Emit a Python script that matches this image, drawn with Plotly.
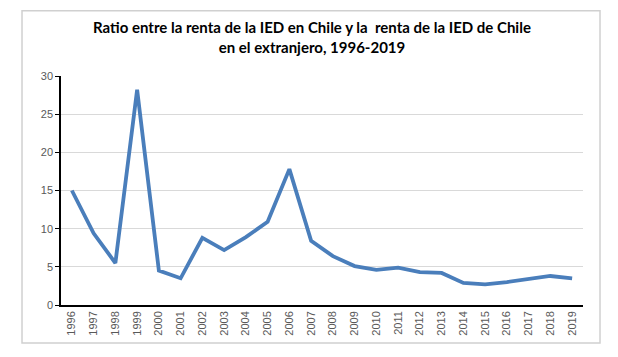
import plotly.graph_objects as go

years = [str(y) for y in range(1996, 2020)]
ratio = [15.0, 9.4, 5.5, 28.2, 4.5, 3.5, 8.8, 7.2, 8.9, 10.9, 17.8, 8.4,
         6.4, 5.1, 4.6, 4.9, 4.3, 4.2, 2.9, 2.7, 3.0, 3.4, 3.8, 3.5]
y_ticks = [0, 5, 10, 15, 20, 25, 30]
title_text = ("<b>Ratio entre la renta de la IED en Chile y la  renta de la IED de Chile"
              "<br>en el extranjero, 1996-2019</b>")

fig = go.Figure()
fig.add_trace(go.Scatter(
    x=years, y=ratio, mode="lines",
    line=dict(color="#4a7ebb", width=3.8),
    showlegend=False, hoverinfo="x+y",
))

# page body has an 8px offset, so the figure is drawn 8px smaller
W, H = 610, 349
fig.update_layout(
    width=W, height=H,
    margin=dict(l=53, r=35, t=68, b=52, autoexpand=False),
    paper_bgcolor="white", plot_bgcolor="white",
    title=dict(text=title_text, x=(312 - 8) / W, xanchor="center",
               y=1 - 25 / H, yanchor="top",
               font=dict(family="Lato, sans-serif", size=15, color="#000000")),
    font=dict(family="Liberation Sans, Arial, sans-serif", size=11, color="#595959"),
    xaxis=dict(type="category", tickangle=-90, showgrid=False,
               showline=True, linecolor="#000000", linewidth=1.5,
               ticks="", tickfont=dict(size=11, color="#595959"),
               range=[-0.5, len(years) - 0.5]),
    yaxis=dict(range=[0, 30], tickvals=y_ticks, showgrid=True,
               gridcolor="#d9d9d9", gridwidth=1,
               showline=True, linecolor="#000000", linewidth=1.5,
               ticks="outside", ticklen=4, tickcolor="#000000",
               tickfont=dict(size=11, color="#595959"), zeroline=False),
    shapes=[dict(type="rect", xref="paper", yref="paper",
                 x0=-0.0747, x1=1.0326, y0=-0.166, y1=1.285,
                 line=dict(color="#d0d0d0", width=1.5), fillcolor="rgba(0,0,0,0)",
                 layer="below")],
)

fig.write_html("out.html")
